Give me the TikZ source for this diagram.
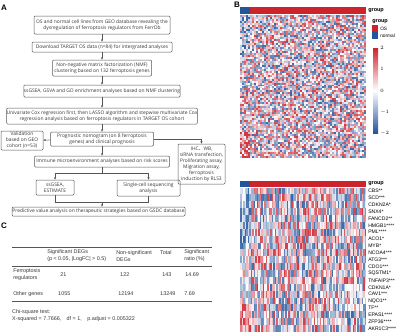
\documentclass[tikz,border=0pt]{standalone}
\usepackage{fontspec}
\setmainfont{Liberation Sans}
\newfontfamily\flowfont{Open Sans}
\newfontfamily\cjk{Noto Sans CJK SC}
\usetikzlibrary{arrows.meta}
\definecolor{hmred}{RGB}{205,35,45}
\definecolor{hmblue}{RGB}{35,85,155}
\definecolor{boxline}{RGB}{85,85,85}
\definecolor{txt}{RGB}{55,55,55}
\tikzset{
  fbox/.style={draw=boxline, line width=0.5pt, rounded corners=1pt, align=center, inner sep=0pt,
    font=\flowfont\fontsize{4.9}{6}\selectfont, text=txt},
  tab/.style={anchor=west, inner sep=0pt, align=left, font=\fontsize{5.4}{7}\selectfont, text=txt},
  gene/.style={anchor=west, inner sep=0pt, font=\fontsize{5.1}{6}\selectfont},
  grp/.style={anchor=west, inner sep=0pt, font=\bfseries\fontsize{5.5}{6}\selectfont},
  panel/.style={font=\bfseries\fontsize{8}{8}\selectfont, inner sep=0pt},
  >={Stealth[length=2.6pt,width=2.2pt]}
}

\begin{document}
\begin{tikzpicture}[x=1pt, y=-1pt, line width=0.5pt]
  \useasboundingbox (0,0) rectangle (400,333);
  \node[panel] (pa) at (4,8) {A};
  \node[panel] (pb) at (237,5) {B};
  \node[panel] (pc) at (4,226) {C};

  % flowchart
  \node[fbox, minimum width=136pt, minimum height=18pt] (geo) at (102,25)
    {OS and normal cell lines from GEO database revealing the\\dysregulation of ferroptosis regulators from FerrDb};
  \node[fbox, minimum width=140pt, minimum height=10pt] (target) at (102,47)
    {Download TARGET OS data (n=84) for intergrated analyses};
  \node[fbox, minimum width=99pt, minimum height=16pt] (nmf) at (102,68)
    {Non-negative matrix factorization (NMF)\\clustering based on 132 ferroptosis genes};
  \node[fbox, minimum width=156pt, minimum height=12pt] (enrich) at (102,91)
    {ssGSEA, GSVA and GO enrichment analyses based on NMF clustering};
  \node[fbox, minimum width=190pt, minimum height=16pt] (cox) at (102,116)
    {Univariate Cox regression first, then LASSO algorithm and stepwise multivariate Cox\\regression analysis based on ferroptosis regulators in TARGET OS cohort};
  \node[fbox, minimum width=103pt, minimum height=14pt] (nomo) at (102,139)
    {Prognostic nomogram (on 8 ferroptosis\\genes) and clinical prognosis};
  \node[fbox, minimum width=42pt, minimum height=19pt] (valid) at (22,140.5)
    {Validation\\based on GEO\\cohort (n=53)};
  \node[fbox, minimum width=47pt, minimum height=40pt] (exper) at (201.5,164)
    {IHC{\cjk 、}WB,\\siRNA transfection,\\Proliferating assay,\\Migration assay,\\ferroptosis\\induction by RLS3};
  \node[fbox, minimum width=135pt, minimum height=11pt] (immune) at (102,161.5)
    {Immune microenvironment analyses based on risk scores};
  \node[fbox, minimum width=38pt, minimum height=15pt] (ssgsea) at (55,187.5)
    {ssGSEA,\\ESTIMATE};
  \node[fbox, minimum width=63pt, minimum height=16pt] (scseq) at (148.5,188)
    {Single-cell sequencing\\analysis};
  \node[fbox, minimum width=173pt, minimum height=9pt] (gdsc) at (98.5,211.5)
    {Predictive value analysis on therapeutic strategies based on GSDC database};
  \coordinate (split) at (102,173);
  \coordinate (merge) at (102,202);

  \draw[->, boxline] (geo) -- (target);
  \draw[->, boxline] (target) -- (nmf);
  \draw[->, boxline] (nmf) -- (enrich);
  \draw[->, boxline] (enrich) -- (cox);
  \draw[->, boxline] (cox) -- (nomo);
  \draw[->, boxline] (nomo) -- (valid);
  \draw[->, boxline] (nomo.east) -| (exper.north);
  \draw[->, boxline] (nomo) -- (immune);
  \draw[boxline] (immune) -- (split);
  \draw[->, boxline] (split) -| (ssgsea.north);
  \draw[->, boxline] (split) -| (scseq.north);
  \draw[boxline] (ssgsea.south) |- (merge);
  \draw[boxline] (scseq.south) |- (merge);
  \draw[->, boxline] (merge) -- (merge |- gdsc.north);

  % table
  \draw[line width=0.8pt, boxline] (12,247) -- (212,247);
  \draw[line width=0.4pt, boxline] (12,266) -- (212,266);
  \draw[line width=0.8pt, boxline] (12,301) -- (212,301);
  \node[tab] (hsig) at (47,256) {Significant DEGs\\(p < 0.05, |LogFC| > 0.5)};
  \node[tab] (hnon) at (116,256) {Non-significant\\DEGs};
  \node[tab] (htot) at (160,252.5) {Total};
  \node[tab] (hrat) at (184,256) {Significant\\ratio (\%)};
  \node[tab] (rfer) at (13,275) {Ferroptosis\\regulators};
  \node[tab] (v11) at (60,275) {21};
  \node[tab] (v12) at (120,275) {122};
  \node[tab] (v13) at (162,275) {143};
  \node[tab] (v14) at (185,275) {14.69};
  \node[tab] (roth) at (13,294) {Other genes};
  \node[tab] (v21) at (58,294) {1055};
  \node[tab] (v22) at (118,294) {12194};
  \node[tab] (v23) at (160,294) {13249};
  \node[tab] (v24) at (184,294) {7.69};
  \node[tab] (chi) at (12,312) {Chi-square test:};
  \node[tab] (chires) at (12,319) {X-squared = 7.7666,\quad df = 1,\quad p.adjust = 0.005322};

  % heatmap, all regulators
  \fill[hmblue] (240,7) rectangle (250,14);
  \fill[hmred] (250,7) rectangle (366,14);
  \node[grp] (tg1) at (368,10.5) {group};
  \pgfmathsetseed{7}
  \foreach \c in {0,...,62}{
    \foreach \r in {0,...,71}{
      \pgfmathsetmacro\hv{max(-1,min(1,rand+(\c<5)*((\r<20)*(-0.5)+(\r>58)*0.6)))}
      \pgfmathtruncatemacro\hp{abs(\hv)*90}
      \ifdim\hv pt<0pt\def\hc{hmblue}\else\def\hc{hmred}\fi
      \fill[\hc!\hp!white] (240+2*\c,15+1.986*\r) rectangle ++(2.15,2.1);
    }
  }
  % legend
  \node[grp] (lg) at (372,22) {group};
  \fill[hmred] (372,25) rectangle (378,32);
  \fill[hmblue] (372,32) rectangle (378,39);
  \node[gene, font=\fontsize{4.8}{5}\selectfont] (los) at (380,28.5) {OS};
  \node[gene, font=\fontsize{4.8}{5}\selectfont] (lnorm) at (380,35.5) {normal};
  \shade[top color=hmred, bottom color=white] (373,48) rectangle (378,90.5);
  \shade[top color=white, bottom color=hmblue] (373,90.5) rectangle (378,133);
  \foreach \t/\yy in {2/48,1/69.25,0/90.5,-1/111.75,-2/133}
    \node[gene, font=\fontsize{4.8}{5}\selectfont] at (380,\yy) {$\t$};

  % heatmap, significant regulators
  \fill[hmblue] (240,181) rectangle (250,187);
  \fill[hmred] (250,181) rectangle (366,187);
  \node[grp] (tg2) at (368,184) {group};
  \foreach \c in {0,...,83}{
    \foreach \r in {0,...,20}{
      \pgfmathsetmacro\hv{max(-1,min(1,rand*(1-0.4*(\c<7))+(\c<7)*((\r<9)*(-0.6)+(\r>16)*0.6)))}
      \pgfmathtruncatemacro\hp{abs(\hv)*90}
      \ifdim\hv pt<0pt\def\hc{hmblue}\else\def\hc{hmred}\fi
      \fill[\hc!\hp!white] (240+1.5*\c,187.5+6.88*\r) rectangle ++(1.6,7);
    }
  }
  \foreach \g [count=\k from 0] in {CBS**, SCD***, CDKN2A*, SNX4*, FANCD2**, HMGB1****, PML****, ACO1*,
      MYB*, NCOA4***, ATG3***, CDO1***, SQSTM1*, TNFAIP3***, CDKN1A*, CAV1***, NQO1**, TF**,
      EPAS1****, ZFP36****, AKR1C3****}
    \node[gene] (g\k) at (368,190.94+6.88*\k) {\g};
\end{tikzpicture}
\end{document}
